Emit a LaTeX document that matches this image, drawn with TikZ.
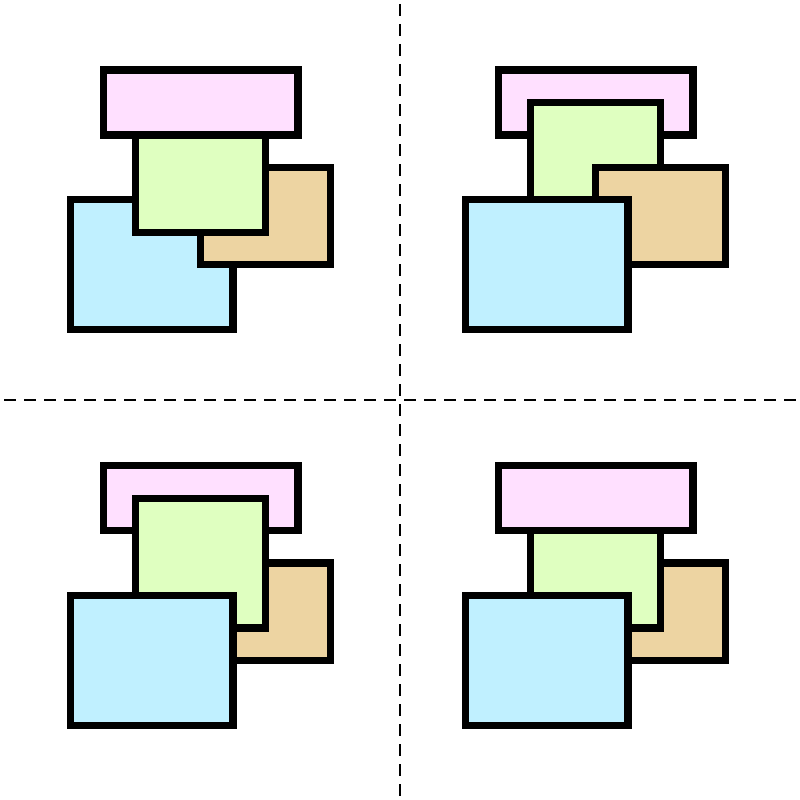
\documentclass[tikz,border=0pt]{standalone}
\usepackage{tikz}

\definecolor{pinkcard}{RGB}{255,224,255}
\definecolor{greencard}{RGB}{223,255,192}
\definecolor{tancard}{RGB}{237,212,162}
\definecolor{bluecard}{RGB}{192,240,255}

\tikzset{
  card/.style={draw=black, line width=7.3pt},
  divider/.style={draw=black, line width=2pt, dash pattern=on 12pt off 8pt}
}

% the four cards, in units of the grid
\newcommand{\pinkbox}{\draw[card, fill=pinkcard] (1,0) rectangle (7,2);}
\newcommand{\greenbox}{\draw[card, fill=greencard] (2,1) rectangle (6,5);}
\newcommand{\tanbox}{\draw[card, fill=tancard] (4,3) rectangle (8,6);}
\newcommand{\bluebox}{\draw[card, fill=bluecard] (0,4) rectangle (5,8);}

\begin{document}
\begin{tikzpicture}[x=32.45pt, y=-32.45pt]

    \fill[white] (0pt,0pt) rectangle (800pt,-800pt);
    \useasboundingbox (0pt,0pt) rectangle (800pt,-800pt);

    % top left
    \begin{scope}[shift={(70.7pt,-70pt)}]
        \bluebox \tanbox \greenbox \pinkbox
    \end{scope}

    % top right
    \begin{scope}[shift={(465.7pt,-70pt)}]
        \pinkbox \greenbox \tanbox \bluebox
    \end{scope}

    % bottom left
    \begin{scope}[shift={(70.7pt,-465.7pt)}]
        \pinkbox \tanbox \greenbox \bluebox
    \end{scope}

    % bottom right
    \begin{scope}[shift={(465.7pt,-465.7pt)}]
        \tanbox \greenbox \bluebox \pinkbox
    \end{scope}

    \coordinate (top) at (400.3pt,-4pt);
    \coordinate (bottom) at (400.3pt,-796pt);
    \coordinate (left) at (4pt,-400.3pt);
    \coordinate (right) at (796pt,-400.3pt);

    \draw[divider] (top) -- (bottom);
    \draw[divider] (left) -- (right);

\end{tikzpicture}
\end{document}
